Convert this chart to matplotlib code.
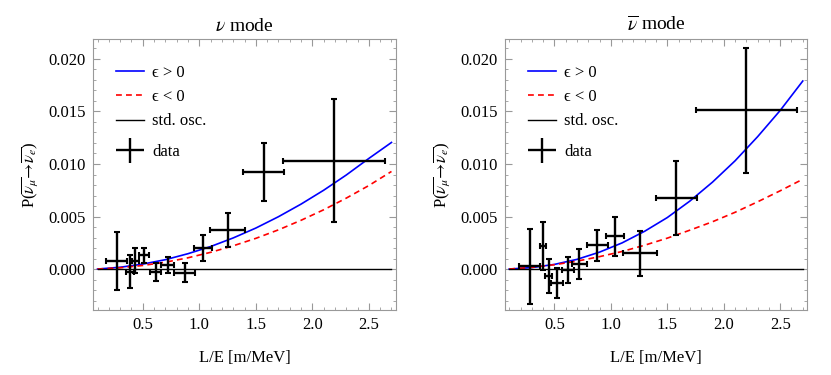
import matplotlib
matplotlib.use("Agg")
import matplotlib.pyplot as plt
from matplotlib.ticker import MultipleLocator, FormatStrFormatter
from matplotlib.lines import Line2D
from matplotlib.legend_handler import HandlerErrorbar

plt.rcParams['font.family'] = ['Liberation Serif', 'DejaVu Serif']
plt.rcParams['mathtext.fontset'] = 'stix'

# theory curves, y in units of 1e-3
curve_x = [0.1, 0.3, 0.5, 0.7, 0.9, 1.1, 1.3, 1.5, 1.7, 1.9, 2.1, 2.3, 2.5, 2.7]
nu_pos = [0.0, 0.17, 0.47, 0.89, 1.46, 2.14, 2.96, 3.9, 4.98, 6.18, 7.5, 8.95, 10.53, 12.05]
nu_neg = [0.0, 0.12, 0.34, 0.65, 1.07, 1.59, 2.21, 2.92, 3.73, 4.64, 5.64, 6.75, 7.95, 9.29]
anu_pos = [0.0, 0.14, 0.44, 0.92, 1.61, 2.49, 3.6, 4.9, 6.47, 8.27, 10.3, 12.6, 15.1, 17.9]
anu_neg = [0.0, 0.16, 0.41, 0.75, 1.18, 1.67, 2.27, 2.94, 3.7, 4.5, 5.4, 6.4, 7.45, 8.55]
std_x = [0.1, 2.7]
std_y = [0.0, 0.0]

# data points, y in units of 1e-3
nu_x = [0.27, 0.385, 0.435, 0.51, 0.615, 0.72, 0.87, 1.035, 1.25, 1.57, 2.19]
nu_xerr = [0.093, 0.035, 0.03, 0.047, 0.05, 0.056, 0.09, 0.08, 0.155, 0.18, 0.45]
nu_y = [0.8, -0.25, 0.8, 1.3, -0.26, 0.35, -0.33, 1.97, 3.72, 9.22, 10.33]
nu_yerr = [2.75, 1.6, 1.2, 0.75, 0.86, 0.77, 0.87, 1.24, 1.62, 2.75, 5.87]

anu_x = [0.28, 0.40, 0.45, 0.52, 0.62, 0.72, 0.88, 1.04, 1.26, 1.58, 2.20]
anu_xerr = [0.095, 0.025, 0.03, 0.053, 0.05, 0.065, 0.095, 0.08, 0.153, 0.18, 0.447]
anu_y = [0.25, 2.19, -0.7, -1.37, -0.1, 0.45, 2.25, 3.13, 1.5, 6.78, 15.12]
anu_yerr = [3.55, 2.25, 1.62, 1.43, 1.27, 1.43, 1.47, 1.87, 2.13, 3.55, 5.93]

titles = [r'$\nu$ mode', r'$\overline{\nu}$ mode']
ylabel = r'P($\overline{\nu_\mu}\!\rightarrow\!\overline{\nu_e}$)'
xlabel = 'L/E [m/MeV]'
line_labels = ['\u03f5 > 0', '\u03f5 < 0', 'std. osc.']

fig = plt.figure(figsize=(8.31, 3.75), dpi=100)
ax1 = fig.add_axes([93/831, 65/375, 303/831, 271/375])
ax2 = fig.add_axes([504.7/831, 65/375, 302.6/831, 271/375])

panels = [
    (ax1, nu_pos, nu_neg, nu_x, nu_xerr, nu_y, nu_yerr, titles[0]),
    (ax2, anu_pos, anu_neg, anu_x, anu_xerr, anu_y, anu_yerr, titles[1]),
]

s = 1e-3
ebkw = dict(fmt='none', ecolor='black', elinewidth=1.7, capsize=2.4, capthick=1.5)
for ax, pos, neg, dx, dxe, dy, dye, title in panels:
    ax.plot(curve_x, [v * s for v in pos], color='#0000ff', lw=1.2, zorder=2)
    ax.plot(curve_x, [v * s for v in neg], color='#ff0000', lw=1.2,
            dashes=(3.5, 2.5), zorder=2)
    ax.plot(std_x, std_y, color='black', lw=1.0, zorder=2)
    ax.errorbar(dx, [v * s for v in dy], xerr=dxe, yerr=[v * s for v in dye],
                zorder=3, **ebkw)

    ax.set_xlim(0.06, 2.74)
    ax.set_ylim(-0.0039, 0.0219)
    ax.xaxis.set_major_locator(MultipleLocator(0.5))
    ax.xaxis.set_minor_locator(MultipleLocator(0.1))
    ax.yaxis.set_major_locator(MultipleLocator(0.005))
    ax.yaxis.set_minor_locator(MultipleLocator(0.001))
    ax.xaxis.set_major_formatter(FormatStrFormatter('%.1f'))
    ax.yaxis.set_major_formatter(FormatStrFormatter('%.3f'))
    ax.tick_params(which='both', direction='in', top=True, right=True,
                   color='#999999', labelsize=12, pad=5)
    ax.tick_params(which='major', length=5, width=0.8)
    ax.tick_params(which='minor', length=2.5, width=0.6)
    for sp in ax.spines.values():
        sp.set_color('#999999')
        sp.set_linewidth(0.8)

    ax.set_title(title, fontsize=14, pad=6)
    ax.set_xlabel(xlabel, fontsize=12, labelpad=12)
    ax.set_ylabel(ylabel, fontsize=12, labelpad=6)

    handles = [
        Line2D([], [], color='#0000ff', lw=1.2),
        Line2D([], [], color='#ff0000', lw=1.2, dashes=(3.5, 2.5)),
        Line2D([], [], color='black', lw=1.0),
    ]
    leg = ax.legend(handles, line_labels, loc='upper left', frameon=False,
                    fontsize=12, handlelength=1.68, handletextpad=0.5,
                    labelspacing=0.5, borderpad=0, borderaxespad=0,
                    bbox_to_anchor=(0.076, 0.905))
    ax.add_artist(leg)

    eb = ax.errorbar([], [], xerr=[], yerr=[], **ebkw)
    ax.legend([eb], ['data'], loc='center left', frameon=False, fontsize=12,
              handlelength=1.68, handletextpad=0.5, borderpad=0,
              borderaxespad=0, bbox_to_anchor=(0.076, 0.582),
              handler_map={eb: HandlerErrorbar(xerr_size=0.84, yerr_size=0.75)})

fig.savefig('out.png', dpi=100)
